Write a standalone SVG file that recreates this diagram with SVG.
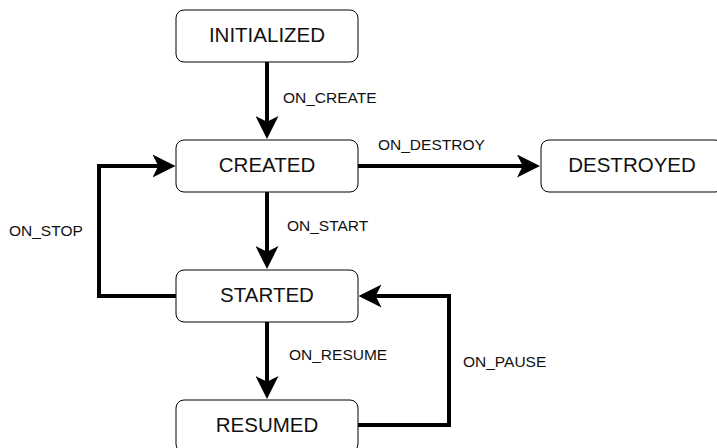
<svg xmlns="http://www.w3.org/2000/svg" width="717" height="448" viewBox="0 0 717 448">
  <defs>
    <style>
      .node rect { fill: #ffffff; stroke: #000000; stroke-width: 1; }
      .node text { font-family: "Liberation Sans", Arial, Helvetica, sans-serif; font-size: 20.5px; fill: #111111; text-anchor: middle; }
      .edge { fill: none; stroke: #000000; stroke-width: 4; stroke-linejoin: miter; marker-end: url(#arrow); }
      .elabel { font-family: "Liberation Sans", Arial, Helvetica, sans-serif; font-size: 15.5px; fill: #111111; }
    </style>
    <marker id="arrow" markerUnits="userSpaceOnUse" viewBox="0 0 23 23" refX="6.5" refY="11.5" markerWidth="23" markerHeight="23" orient="auto">
      <path d="M0,0 L23,11.5 L0,23 L5.75,11.5 Z" fill="#000000"/>
    </marker>
  </defs>
  <rect width="717" height="448" fill="#ffffff"/>

  <g id="connectors">
    <path class="edge" d="M267,62 V122.5"/>
    <path class="edge" d="M267,192 V252.5"/>
    <path class="edge" d="M267,322 V382.5"/>
    <path class="edge" d="M358,166 H523.5"/>
    <path class="edge" d="M176,296 H99 V166 H159"/>
    <path class="edge" d="M358,425 H449 V296 H375"/>
    <text class="elabel" x="283" y="103">ON_CREATE</text>
    <text class="elabel" x="287" y="231">ON_START</text>
    <text class="elabel" x="289" y="360">ON_RESUME</text>
    <text class="elabel" x="378" y="149.5">ON_DESTROY</text>
    <text class="elabel" x="9" y="236">ON_STOP</text>
    <text class="elabel" x="463" y="366.5">ON_PAUSE</text>
  </g>

  <g id="node-initialized" class="node">
    <rect x="176" y="10" width="182" height="52" rx="8" ry="8"/>
    <text x="267" y="41.5">INITIALIZED</text>
  </g>
  <g id="node-created" class="node">
    <rect x="176" y="140" width="182" height="52" rx="8" ry="8"/>
    <text x="267" y="171.5">CREATED</text>
  </g>
  <g id="node-destroyed" class="node">
    <rect x="541" y="140" width="182" height="52" rx="8" ry="8"/>
    <text x="632" y="171.5">DESTROYED</text>
  </g>
  <g id="node-started" class="node">
    <rect x="176" y="270" width="182" height="52" rx="8" ry="8"/>
    <text x="267" y="301.5">STARTED</text>
  </g>
  <g id="node-resumed" class="node">
    <rect x="176" y="400" width="182" height="52" rx="8" ry="8"/>
    <text x="267" y="431.5">RESUMED</text>
  </g>
</svg>
